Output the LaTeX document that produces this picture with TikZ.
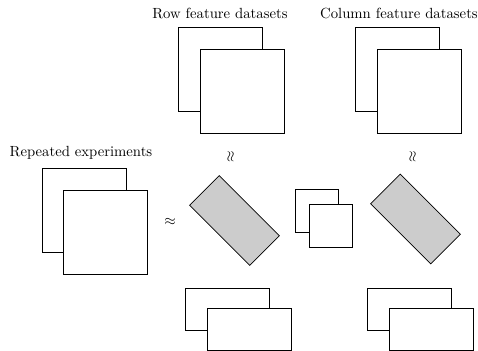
\documentclass[tikz,border=0pt]{standalone}
\usepackage{amsmath}
\begin{document}
\begin{tikzpicture}[x=0.7pt,y=-0.7pt,
  sheet/.style={draw, fill=white, line width=0.45pt, inner sep=0pt, anchor=north west},
  bigsq/.style={sheet, minimum width=58.8pt, minimum height=58.8pt},
  smallsq/.style={sheet, minimum width=29.8pt, minimum height=29.8pt},
  wide/.style={sheet, minimum width=58.8pt, minimum height=29.4pt},
  factor/.style={draw, fill=gray!40, line width=0.45pt, inner sep=0pt, minimum width=59.5pt, minimum height=29.4pt, rotate=-45},
  lbl/.style={inner sep=0pt, scale=1.03}]
\useasboundingbox (0,0) rectangle (478,351);
% labels
\node[lbl] (rowlbl) at (220,13) {Row feature datasets};
\node[lbl] (collbl) at (399,13) {Column feature datasets};
\node[lbl] (replbl) at (81,153) {Repeated experiments};
% row feature datasets
\node[bigsq] (rowb) at (178,27) {};
\node[bigsq] (rowf) at (200,49) {};
% column feature datasets
\node[bigsq] (colb) at (355,27) {};
\node[bigsq] (colf) at (377,49) {};
% repeated experiments
\node[bigsq] (repb) at (42,168) {};
\node[bigsq] (repf) at (63,190) {};
% approx signs
\node[lbl, rotate=90] (apx1) at (231,157) {$\approx$};
\node[lbl, rotate=90] (apx2) at (413,157) {$\approx$};
\node[lbl] (apx3) at (170,222) {$\approx$};
% factors
\node[factor] (fl) at (234.5,220.5) {};
\node[factor] (fr) at (415.5,219) {};
% core
\node[smallsq] (coreb) at (295,189) {};
\node[smallsq] (coref) at (309,204) {};
% bottom pairs
\node[wide] (blb) at (185,288) {};
\node[wide] (blf) at (207,308) {};
\node[wide] (brb) at (367,288) {};
\node[wide] (brf) at (389,308) {};
\end{tikzpicture}
\end{document}
